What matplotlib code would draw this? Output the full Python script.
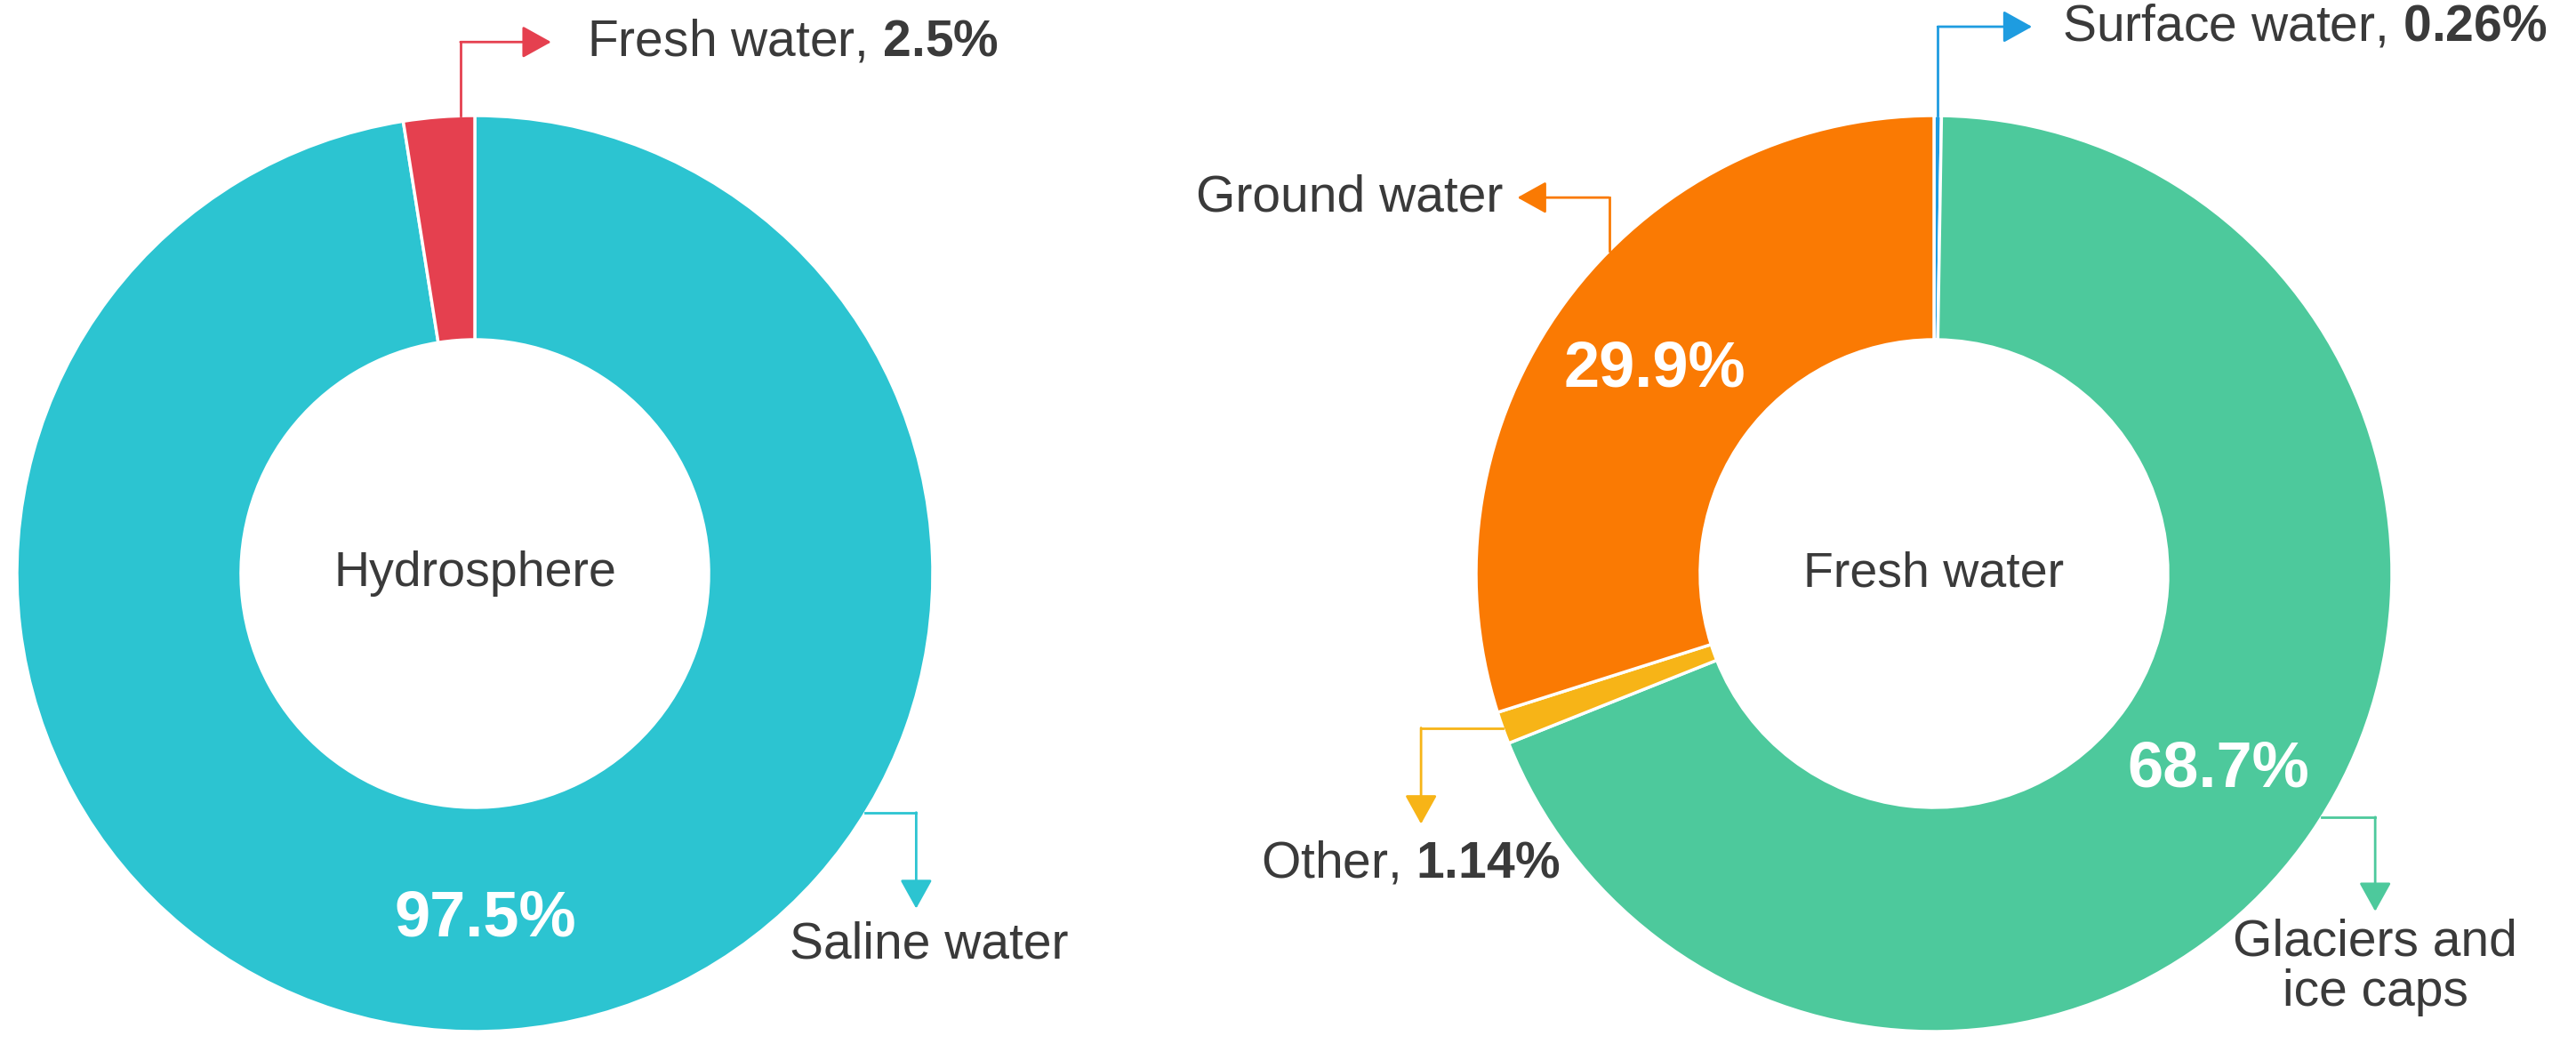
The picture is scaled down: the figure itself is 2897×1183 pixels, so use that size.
import matplotlib
matplotlib.use('Agg')
import matplotlib.pyplot as plt
import numpy as np

plt.rcParams['font.family'] = ['Liberation Sans', 'DejaVu Sans']
plt.rcParams['mathtext.fontset'] = 'custom'
plt.rcParams['mathtext.rm'] = 'Liberation Sans'
plt.rcParams['mathtext.bf'] = 'Liberation Sans:bold'

W, H = 2897, 1183

# left donut - whole hydrosphere (clockwise from 12 o'clock)
hydro_title = 'Hydrosphere'
hydro_labels = ['Saline water', 'Fresh water']
hydro_values = [97.5, 2.5]
hydro_colors = ['#2cc4d1', '#e5404f']
hydro_inner = [True, False]          # big white % inside the ring
hydro_pct_in_label = [False, True]   # "name, **x%**" outside

# right donut - fresh water breakdown
fresh_title = 'Fresh water'
fresh_labels = ['Surface water', 'Glaciers and\nice caps', 'Other', 'Ground water']
fresh_values = [0.26, 68.7, 1.14, 29.9]
fresh_colors = ['#1e9ce0', '#4dc99c', '#f7b417', '#fa7a03']
fresh_inner = [False, True, False, True]
fresh_pct_in_label = [True, False, True, False]

R = 515
hole = 263
text_col = '#3a3a3a'

# leader styles: where on the wedge the line starts (fraction of its angle),
# the two legs in px (y up) and where the text goes relative to the arrow tip
hydro_leaders = [
    dict(frac=0.654, legs=[(57, 0), (0, -108)], off=(14, -14), ha='center', va='top'),
    dict(frac=0.2, legs=[(0, 83), (102, 0)], off=(40, 0), ha='left', va='center'),
]
fresh_leaders = [
    dict(frac=0.5, legs=[(0, 100), (106, 0)], off=(34, 0), ha='left', va='center'),
    dict(frac=0.51, legs=[(60, 0), (0, -106)], off=(0, -8), ha='center', va='top'),
    dict(frac=0.5, legs=[(-92, 0), (0, -108)], off=(-12, -18), ha='center', va='top'),
    dict(frac=0.42, legs=[(0, 60), (-103, 0)], off=(-16, 0), ha='right', va='center'),
]
# where the big inner % sits along its wedge
hydro_in_frac = [0.492, 0.5]
fresh_in_frac = [0.5, 0.5, 0.5, 0.5]


def fmt(v):
    return f'{v:g}%'


def donut(ax, center, title, labels, values, colors, inner, pct_lab, leaders, in_frac):
    wedges, _ = ax.pie(values, colors=colors, startangle=90, counterclock=False,
                       center=center, radius=R,
                       wedgeprops=dict(width=R - hole, edgecolor='white', linewidth=2.5))
    cx, cy = center
    ax.text(cx, cy, title, ha='center', va='center', fontsize=40, color=text_col)
    for w, lab, v, col, show_in, show_pct, ld, f in zip(wedges, labels, values, colors,
                                                        inner, pct_lab, leaders, in_frac):
        if show_in:
            mid = np.radians(w.theta1 + f * (w.theta2 - w.theta1))
            rm = (R + hole) / 2
            ax.text(cx + rm * np.cos(mid), cy + rm * np.sin(mid), fmt(v),
                    ha='center', va='center', fontsize=52, fontweight='bold', color='white')
        a = np.radians(w.theta1 + ld['frac'] * (w.theta2 - w.theta1))
        pts = [(cx + R * np.cos(a), cy + R * np.sin(a))]
        for dx, dy in ld['legs']:
            pts.append((pts[-1][0] + dx, pts[-1][1] + dy))
        ax.plot([p[0] for p in pts[:-1]], [p[1] for p in pts[:-1]], color=col, lw=2,
                solid_capstyle='projecting')
        ax.annotate('', xy=pts[-1], xytext=pts[-2],
                    arrowprops=dict(arrowstyle='-|>,head_length=0.45,head_width=0.25',
                                    color=col, lw=2, mutation_scale=45,
                                    shrinkA=0, shrinkB=0))
        txt = lab
        if show_pct:
            txt = lab + ', $\\mathbf{' + fmt(v).replace('%', '\\%') + '}$'
        ax.text(pts[-1][0] + ld['off'][0], pts[-1][1] + ld['off'][1], txt,
                ha=ld['ha'], va=ld['va'], fontsize=41, color=text_col,
                multialignment='center', linespacing=1.05)


fig = plt.figure(figsize=(W / 100, H / 100), dpi=100)
ax = fig.add_axes([0, 0, 1, 1])

donut(ax, (534, H - 645), hydro_title, hydro_labels, hydro_values, hydro_colors,
      hydro_inner, hydro_pct_in_label, hydro_leaders, hydro_in_frac)
donut(ax, (2175, H - 645), fresh_title, fresh_labels, fresh_values, fresh_colors,
      fresh_inner, fresh_pct_in_label, fresh_leaders, fresh_in_frac)

ax.set_xlim(0, W)
ax.set_ylim(0, H)
ax.set_aspect('equal')
ax.axis('off')

fig.savefig('out.png', dpi=100, facecolor='white')
